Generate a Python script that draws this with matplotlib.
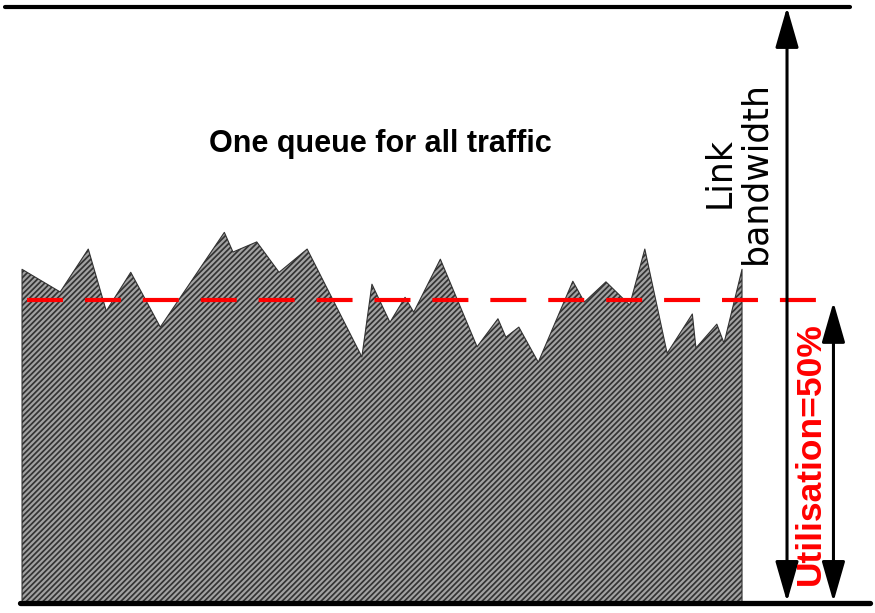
import matplotlib
matplotlib.use("Agg")
import matplotlib.pyplot as plt
from matplotlib import font_manager

# traffic load over time, in % of link bandwidth
t = [0, 5.3, 9.2, 11.7, 15.1, 19.2, 28.1, 29.3, 32.6, 35.7, 39.6, 47.2, 48.6,
     51.1, 53.2, 54.4, 58.1, 63.2, 66.1, 67.2, 69.0, 71.7, 76.5, 78.1, 81.1,
     84.4, 86.5, 89.6, 93.1, 93.6, 96.5, 97.5, 100]
load = [56.0, 52.2, 59.4, 49.0, 55.5, 46.3, 62.2, 58.9, 60.6, 55.5, 59.4, 41.3,
        53.5, 47.1, 51.3, 48.8, 57.7, 43.0, 47.7, 44.6, 46.3, 40.4, 54.0, 50.5,
        53.9, 50.0, 59.4, 41.9, 48.5, 42.8, 46.8, 43.6, 56.0]
link_bw = 100
util = 50.8
title = "One queue for all traffic"
bw_label = "Link\nbandwidth"
util_label = "Utilisation=50%"

installed = {f.name for f in font_manager.fontManager.ttflist}
if "Liberation Sans Narrow" in installed:
    title_font, title_size = "Liberation Sans Narrow", 25.5
else:
    title_font, title_size = "Liberation Sans", 22

plt.rcParams["hatch.linewidth"] = 1.25

fig = plt.figure(figsize=(8.75, 6.13), dpi=100)
ax = fig.add_axes([0, 0, 1, 1])
ax.set_xlim(-3.06, 118.47)
ax.set_ylim(-1.68, 101.2)
ax.axis("off")

# traffic area
ax.fill_between(t, 0, load, facecolor="#a2a2a2", edgecolor="#333333",
                hatch="//////", linewidth=0.8)

# link limits
ax.plot([-2.36, 115], [link_bw, link_bw], color="black", lw=3,
        solid_capstyle="round")
ax.plot([-0.28, 117.8], [0, 0], color="black", lw=3.8, solid_capstyle="round")

# mean utilisation
ax.plot([0.7, 110.6], [util, util], color="#ff0000", lw=3,
        dashes=(25.9 / 3, 15.8 / 3), dash_capstyle="butt")

arrow = dict(arrowstyle="<|-|>,head_length=25,head_width=7.2",
             mutation_scale=1, color="black", lw=2.2, shrinkA=0, shrinkB=0)
ax.annotate("", xy=(106.25, link_bw), xytext=(106.25, 0.2), arrowprops=arrow)
ax.annotate("", xy=(112.7, util - 0.3), xytext=(112.7, 0.2), arrowprops=arrow)

ax.text(49.8, 75.7, title, ha="center", va="baseline", fontsize=title_size,
        fontweight="bold", family=title_font)
ax.text(99.4, 72.3, bw_label, ha="center", va="center", rotation=90,
        fontsize=25, family="DejaVu Sans", multialignment="center",
        linespacing=1.05)
ax.text(109.5, 25.1, util_label, ha="center", va="center", rotation=90,
        fontsize=25.5, fontweight="bold", color="#ff0000",
        family="Liberation Sans")

fig.savefig("out.png", dpi=100)
